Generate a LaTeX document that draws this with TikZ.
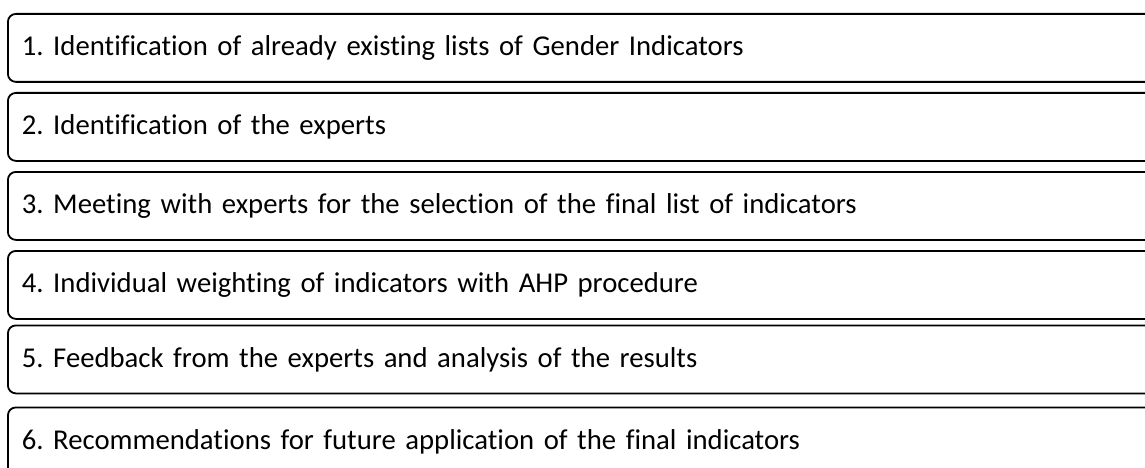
\documentclass[tikz,border=0pt]{standalone}
\usepackage{fontspec}
\setmainfont[Ligatures=NoCommon]{Carlito}
\frenchspacing
\begin{document}
\begin{tikzpicture}[x=1pt,y=1pt]
  \tikzset{
    stepbox/.style={
      rectangle,
      rounded corners=8pt,
      draw=black,
      line width=1.8pt,
      anchor=north west,
      minimum height=68pt,
      text width=1125pt,
      inner xsep=14pt,
      align=left,
      font=\fontsize{28.7}{28.7}\selectfont
    }
  }

  \useasboundingbox (0,0) rectangle (1145,-468);
  \clip (0,0) rectangle (1145,-468);

  \node[stepbox] (S1) at (7, -13) {1. Identification of already existing lists of Gender Indicators};
  \node[stepbox] (S2) at (7, -92) {2. Identification of the experts};
  \node[stepbox] (S3) at (7, -171) {3. Meeting with experts for the selection of the final list of indicators};
  \node[stepbox] (S4) at (7, -250) {4. Individual weighting of indicators with AHP procedure};
  \node[stepbox] (S5) at (7, -324.5) {5. Feedback from the experts and analysis of the results};
  \node[stepbox] (S6) at (7, -406.5) {6. Recommendations for future application of the final indicators};
\end{tikzpicture}
\end{document}
